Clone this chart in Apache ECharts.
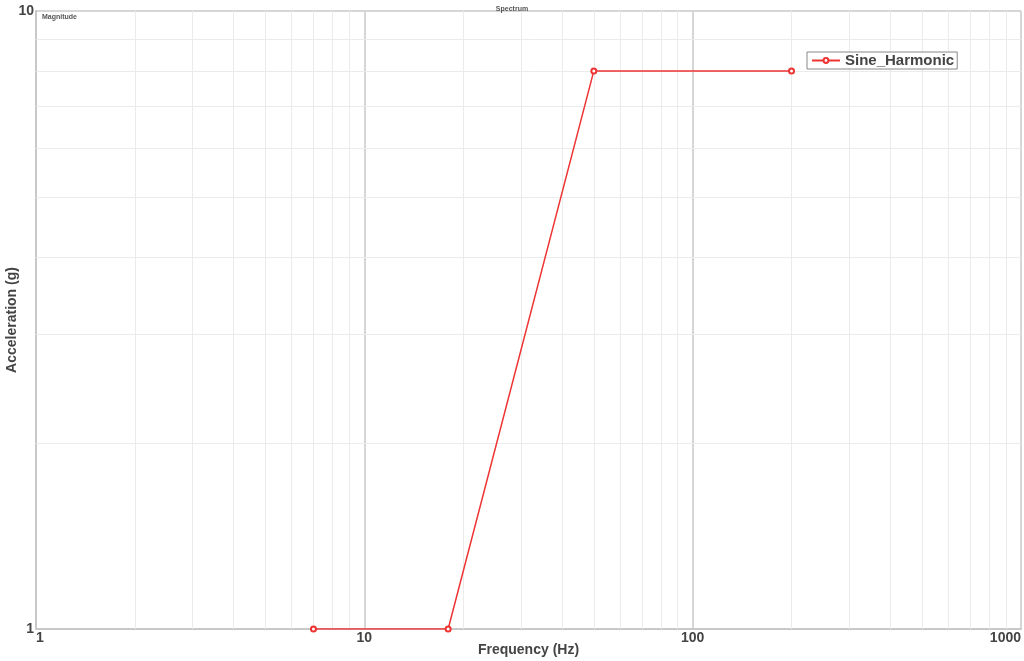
<!DOCTYPE html>
<html>
<head>
<meta charset="utf-8">
<script src="https://cdn.jsdelivr.net/npm/echarts@6/dist/echarts.min.js"></script>
<style>
html,body{margin:0;padding:0;background:#fff;}
#chart{width:1024px;height:661px;}
</style>
</head>
<body>
<div id="chart"></div>
<script>
const freq = [7, 18, 50, 200];
const accel = [1, 1, 8, 8];
const seriesName = 'Sine_Harmonic';
const minorX = [2,3,4,5,6,7,8,9,20,30,40,50,60,70,80,90,200,300,400,500,600,700,800,900];
const minorY = [2,3,4,5,6,7,8,9];

const chart = echarts.init(document.getElementById('chart'));
const gridLines = minorX.map(v => ({xAxis: v})).concat(minorY.map(v => ({yAxis: v})));
chart.setOption({
  animation: false,
  backgroundColor: '#fff',
  title: [
    {text: 'Spectrum', left: 'center', top: 1, textStyle: {fontSize: 7, fontWeight: 'bold', color: '#555', fontFamily: 'Liberation Sans'}},
    {text: 'Magnitude', left: 37, top: 9, textStyle: {fontSize: 7, fontWeight: 'bold', color: '#555', fontFamily: 'Liberation Sans'}}
  ],
  legend: {
    data: [seriesName],
    left: 807, top: 52, z: 20,
    borderColor: '#888', borderWidth: 1, borderRadius: 0,
    padding: [1, 3, 1, 4],
    backgroundColor: '#fff',
    itemWidth: 28, itemHeight: 6, itemGap: 4,
    textStyle: {fontSize: 15, fontWeight: 'bold', color: '#444', fontFamily: 'Liberation Sans'}
  },
  grid: {left: 36, right: 3, top: 11, bottom: 32, outerBoundsMode: 'none', containLabel: false},
  xAxis: {
    type: 'log', logBase: 10, min: 1, max: 1000,
    name: 'Frequency (Hz)', nameLocation: 'middle', nameGap: 14, nameMoveOverlap: false,
    nameTextStyle: {fontSize: 14, fontWeight: 'bold', color: '#444', fontFamily: 'Liberation Sans'},
    axisLine: {show: true, lineStyle: {color: '#c8c8c8', width: 2}},
    axisTick: {show: false},
    axisLabel: {fontSize: 14, fontWeight: 'bold', color: '#444', margin: 2, fontFamily: 'Liberation Sans',
      alignMaxLabel: 'right', alignMinLabel: 'left', formatter: v => String(v)},
    splitLine: {show: true, lineStyle: {color: '#d6d6d6', width: 2}}
  },
  yAxis: {
    type: 'log', logBase: 10, min: 1, max: 10,
    name: 'Acceleration (g)', nameLocation: 'middle', nameGap: 17, nameMoveOverlap: false,
    nameTextStyle: {fontSize: 14, fontWeight: 'bold', color: '#444', fontFamily: 'Liberation Sans'},
    axisLine: {show: true, lineStyle: {color: '#c8c8c8', width: 2}},
    axisTick: {show: false},
    axisLabel: {fontSize: 14, fontWeight: 'bold', color: '#444', margin: 2, fontFamily: 'Liberation Sans', formatter: v => String(v)},
    splitLine: {show: true, lineStyle: {color: '#d6d6d6', width: 2}}
  },
  series: [
    {
      name: '_grid', type: 'line', data: [], silent: true, z: 1,
      markLine: {
        silent: true, symbol: 'none', animation: false, z: 1,
        label: {show: false},
        lineStyle: {color: '#ebebeb', width: 1, type: 'solid'},
        emphasis: {disabled: true},
        data: gridLines
      }
    },
    {
      name: seriesName, type: 'line', z: 5,
      data: freq.map((f, i) => [f, accel[i]]),
      symbol: 'emptyCircle', symbolSize: 5,
      itemStyle: {color: '#ee3333', borderColor: '#ee3333', borderWidth: 1.2},
      lineStyle: {color: '#ee3333', width: 1.5}
    }
  ]
});
</script>
</body>
</html>
